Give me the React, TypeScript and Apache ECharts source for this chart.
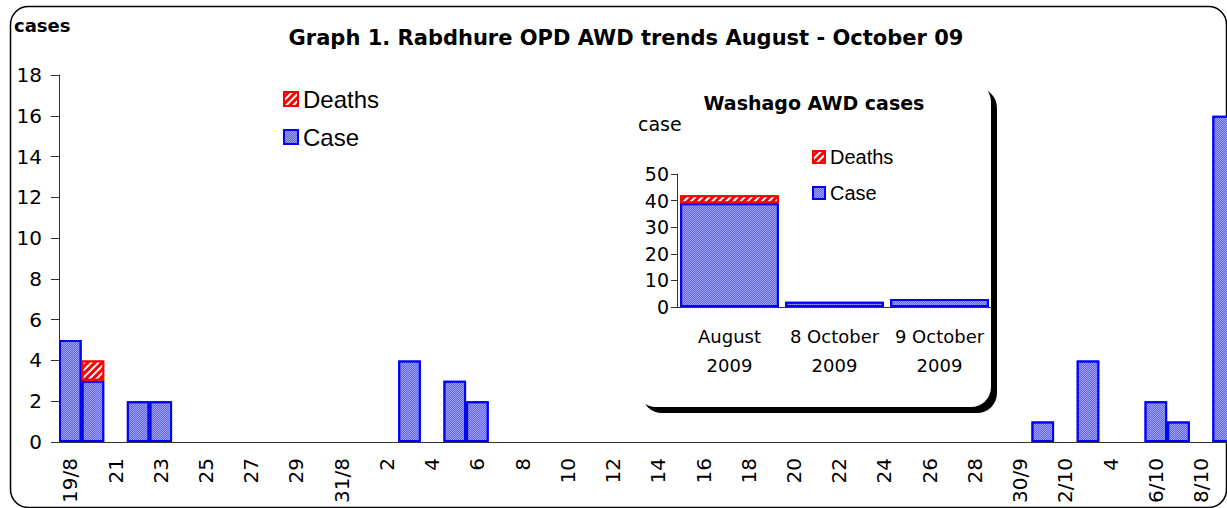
import React, { useEffect, useRef } from "react";
import * as echarts from "echarts";

// Main chart: daily OPD AWD, 19 Aug - 9 Oct 2009
const dayLabels = [
  "19/8", "20", "21", "22", "23", "24", "25", "26", "27", "28", "29", "30", "31/8",
  "1", "2", "3", "4", "5", "6", "7", "8", "9", "10", "11", "12", "13", "14", "15",
  "16", "17", "18", "19", "20", "21", "22", "23", "24", "25", "26", "27", "28", "29", "30/9",
  "1", "2/10", "3", "4", "5", "6/10", "7", "8/10", "9",
];
const caseCounts = [
  5, 3, 0, 2, 2, 0, 0, 0, 0, 0, 0, 0, 0,
  0, 0, 4, 0, 3, 2, 0, 0, 0, 0, 0, 0, 0, 0, 0,
  0, 0, 0, 0, 0, 0, 0, 0, 0, 0, 0, 0, 0, 0, 0,
  1, 0, 4, 0, 0, 2, 1, 0, 16,
];
const deathCounts = [
  0, 1, 0, 0, 0, 0, 0, 0, 0, 0, 0, 0, 0,
  0, 0, 0, 0, 0, 0, 0, 0, 0, 0, 0, 0, 0, 0, 0,
  0, 0, 0, 0, 0, 0, 0, 0, 0, 0, 0, 0, 0, 0, 0,
  0, 0, 0, 0, 0, 0, 0, 0, 0,
];
const mainYMin = 0;
const mainYMax = 18;
const mainYStep = 2;

// Inset: Washago AWD cases
const insetCategories = ["August 2009", "8 October 2009", "9 October 2009"];
const insetCases = [39, 2, 3];
const insetDeaths = [3, 0, 0];
const insetYMin = 0;
const insetYMax = 50;
const insetYStep = 10;

const seriesNames = { deaths: "Deaths", cases: "Case" };

const caseStyle = {
  color: "#9c9cff",
  borderColor: "#0000ff",
  borderWidth: 2,
  decal: {
    symbol: "rect",
    symbolSize: 1,
    dashArrayX: [[1, 1], [0, 1, 1, 0]],
    dashArrayY: [1, 0],
    color: "#6666ff",
  },
};
const deathStyle = {
  color: "#ff0000",
  borderColor: "#ff0000",
  borderWidth: 2,
  decal: {
    symbol: "rect",
    symbolSize: 1,
    dashArrayX: [1, 0],
    dashArrayY: [2, 3],
    rotation: -Math.PI / 4,
    color: "#ffffff",
  },
};

const nz = (arr: number[]) => arr.map((v) => (v === 0 ? null : v));

export default function App() {
  const ref = useRef<HTMLDivElement>(null);

  useEffect(() => {
    if (!ref.current) return;
    const chart = echarts.init(ref.current, undefined, { renderer: "svg" });
    const axisColor = "#333333";
    const dv = "DejaVu Sans";
    const lib = "Liberation Sans";

    chart.setOption({
      animation: false,
      backgroundColor: "#ffffff",
      graphic: [
        {
          type: "rect",
          z: -1,
          shape: { x: 10.5, y: 6.5, width: 1216, height: 501, r: 18 },
          style: { fill: "none", stroke: "#000000", lineWidth: 1.5 },
        },
        {
          type: "rect",
          z: -1,
          shape: { x: 642, y: 88, width: 355, height: 325, r: 20 },
          style: { fill: "#000000" },
        },
        {
          type: "rect",
          z: -1,
          shape: { x: 636, y: 82, width: 355, height: 325, r: 20 },
          style: { fill: "#ffffff" },
        },
        {
          type: "text",
          x: 626,
          y: 37.5,
          style: {
            text: "Graph 1. Rabdhure OPD AWD trends August - October 09",
            font: `bold 21px "${dv}"`,
            fill: "#000",
            textAlign: "center",
            textVerticalAlign: "middle",
            align: "center",
            verticalAlign: "middle",
          },
        },
        {
          type: "text",
          x: 14,
          y: 25,
          style: {
            text: "cases",
            font: `bold 18px "${dv}"`,
            fill: "#000",
            textAlign: "left",
            textVerticalAlign: "middle",
            align: "left",
            verticalAlign: "middle",
          },
        },
        {
          type: "text",
          x: 814,
          y: 103,
          style: {
            text: "Washago AWD cases",
            font: `bold 19px "${dv}"`,
            fill: "#000",
            textAlign: "center",
            textVerticalAlign: "middle",
            align: "center",
            verticalAlign: "middle",
          },
        },
        {
          type: "text",
          x: 638,
          y: 124,
          style: {
            text: "case",
            font: `19px "${dv}"`,
            fill: "#000",
            textAlign: "left",
            textVerticalAlign: "middle",
            align: "left",
            verticalAlign: "middle",
          },
        },
      ],
      legend: [
        {
          orient: "vertical",
          left: 283,
          top: 87,
          padding: 0,
          itemWidth: 14,
          itemHeight: 14,
          itemGap: 14,
          icon: "rect",
          selectedMode: false,
          data: [seriesNames.deaths, seriesNames.cases],
          textStyle: { fontFamily: lib, fontSize: 24, color: "#000" },
        },
        {
          orient: "vertical",
          left: 812,
          top: 147,
          padding: 0,
          itemWidth: 12,
          itemHeight: 12,
          itemGap: 16,
          icon: "rect",
          selectedMode: false,
          data: [seriesNames.deaths, seriesNames.cases],
          textStyle: { fontFamily: lib, fontSize: 20, color: "#000" },
        },
      ],
      grid: [
        { left: 59, top: 75, width: 1176, height: 367 },
        { left: 677, top: 174, width: 315, height: 133 },
      ],
      xAxis: [
        {
          type: "category",
          gridIndex: 0,
          data: dayLabels,
          boundaryGap: true,
          axisLine: { lineStyle: { color: axisColor, width: 1 } },
          axisTick: { interval: 0, alignWithLabel: false, length: 7, lineStyle: { color: axisColor } },
          axisLabel: {
            interval: 1,
            rotate: 90,
            margin: 16,
            fontFamily: dv,
            fontSize: 20,
            color: "#000",
          },
          splitLine: { show: false },
        },
        {
          type: "category",
          gridIndex: 1,
          data: insetCategories,
          boundaryGap: true,
          axisLine: { lineStyle: { color: axisColor, width: 1 } },
          axisTick: { interval: 0, alignWithLabel: false, length: 6, lineStyle: { color: axisColor } },
          axisLabel: {
            interval: 0,
            margin: 15,
            fontFamily: dv,
            fontSize: 18,
            lineHeight: 29,
            color: "#000",
            formatter: (v: string) => v.replace(/ (\d{4})$/, "\n$1"),
          },
          splitLine: { show: false },
        },
      ],
      yAxis: [
        {
          type: "value",
          gridIndex: 0,
          min: mainYMin,
          max: mainYMax,
          interval: mainYStep,
          axisLine: { show: true, lineStyle: { color: axisColor, width: 1 } },
          axisTick: { show: true, length: 8, lineStyle: { color: axisColor } },
          axisLabel: { margin: 17, fontFamily: dv, fontSize: 20, color: "#000" },
          splitLine: { show: false },
        },
        {
          type: "value",
          gridIndex: 1,
          min: insetYMin,
          max: insetYMax,
          interval: insetYStep,
          axisLine: { show: true, lineStyle: { color: axisColor, width: 1 } },
          axisTick: { show: true, length: 6, lineStyle: { color: axisColor } },
          axisLabel: { margin: 8, fontFamily: dv, fontSize: 19, color: "#000" },
          splitLine: { show: false },
        },
      ],
      series: [
        {
          name: seriesNames.cases,
          type: "bar",
          xAxisIndex: 0,
          yAxisIndex: 0,
          stack: "main",
          barCategoryGap: "0%",
          data: nz(caseCounts),
          itemStyle: caseStyle,
        },
        {
          name: seriesNames.deaths,
          type: "bar",
          xAxisIndex: 0,
          yAxisIndex: 0,
          stack: "main",
          barCategoryGap: "0%",
          data: nz(deathCounts),
          itemStyle: deathStyle,
        },
        {
          name: seriesNames.cases,
          type: "bar",
          xAxisIndex: 1,
          yAxisIndex: 1,
          stack: "inset",
          barCategoryGap: "6%",
          data: nz(insetCases),
          itemStyle: caseStyle,
        },
        {
          name: seriesNames.deaths,
          type: "bar",
          xAxisIndex: 1,
          yAxisIndex: 1,
          stack: "inset",
          barCategoryGap: "6%",
          data: nz(insetDeaths),
          itemStyle: deathStyle,
        },
      ],
    });

    return () => chart.dispose();
  }, []);

  return (
    <div
      style={{
        position: "absolute",
        left: 0,
        top: 0,
        width: 1227,
        height: 508,
        overflow: "hidden",
      }}
    >
      <div ref={ref} style={{ width: 1260, height: 508 }} />
    </div>
  );
}
